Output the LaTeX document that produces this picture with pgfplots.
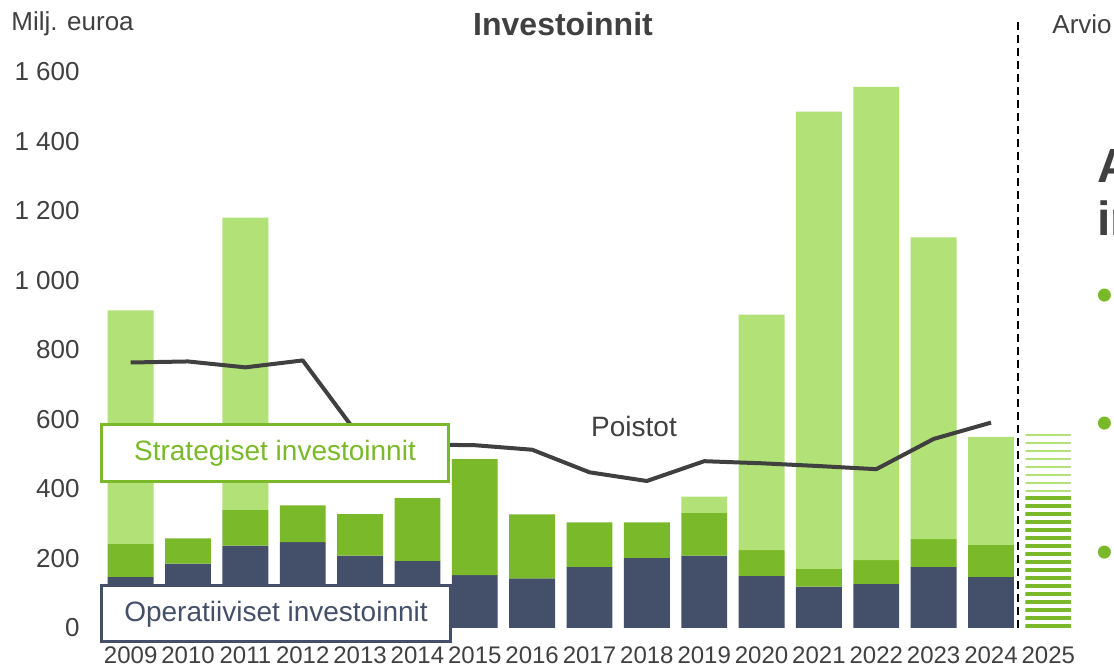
\documentclass[border=0pt]{standalone}
\usepackage{pgfplots}
\pgfplotsset{compat=1.18}
\usepackage{fontspec}
\setmainfont{Liberation Sans}

\definecolor{navy}{HTML}{44506A}
\definecolor{midgreen}{HTML}{7AB929}
\definecolor{lightgreen}{HTML}{B2E177}
\definecolor{txtgray}{HTML}{404040}

% horizontal stripes clipped to the bar shape (plain pgf so no style recursion)
\tikzset{stripes/.style n args={2}{path picture={
    \pgfsetcolor{#1}\pgfsetlinewidth{#2}%
    \foreach \i in {0,...,70}{%
      \pgfpathmoveto{\pgfpointadd{\pgfpointanchor{path picture bounding box}{south west}}{\pgfpoint{0pt}{\i*4pt+1pt}}}%
      \pgfpathlineto{\pgfpointadd{\pgfpointanchor{path picture bounding box}{south east}}{\pgfpoint{0pt}{\i*4pt+1pt}}}%
      \pgfusepath{stroke}}}}}

% investments by type, M EUR (2009 = 0 ... 2025 = 16)
\pgfplotstableread{
x  oper strat extra est1 est2 poistot
0  147  95    672   0    0    764
1  185  73    0     0    0    767
2  237  103   841   0    0    750
3  247  106   0     0    0    770
4  208  120   0     0    0    548
5  193  181   0     0    0    528
6  152  334   0     0    0    526
7  143  184   0     0    0    513
8  176  128   0     0    0    448
9  202  102   0     0    0    423
10 208  123   47    0    0    480
11 150  74    678   0    0    474
12 119  51    1316  0    0    466
13 127  68    1362  0    0    457
14 176  80    868   0    0    544
15 147  92    311   0    0    591
16 0    0     0     389  185  nan
}\data

\begin{document}
\begin{tikzpicture}
\path[use as bounding box] (-51pt,-19.5pt) rectangle (506pt,314pt);
\clip (-51pt,-19.5pt) rectangle (506pt,314pt);
\begin{axis}[
    at={(0pt,0pt)}, anchor=south west,
    scale only axis,
    width=487.5pt, height=278pt,
    ybar stacked,
    reverse stacked plots=false,
    bar width=0.8,
    xmin=-0.5, xmax=16.5,
    ymin=0, ymax=1600,
    enlargelimits=false,
    axis line style={draw=none},
    tick style={draw=none},
    xtick={0,...,16},
    xticklabels={2009,2010,2011,2012,2013,2014,2015,2016,2017,2018,2019,2020,2021,2022,2023,2024,2025},
    ytick={0,200,...,1600},
    scaled y ticks=false,
    major tick length=0pt,
    /pgf/number format/assume math mode=true,
    /pgf/number format/1000 sep={~},
    xticklabel style={anchor=base, yshift=-18pt, font=\fontsize{12}{14}\selectfont, text=txtgray},
    yticklabel style={anchor=east, inner sep=0pt, xshift=-11pt, font=\fontsize{13}{15}\selectfont, text=txtgray},
    clip=false,
]
\addplot[fill=navy, draw=none] table[x=x, y=oper] {\data};
\addplot[fill=midgreen, draw=none] table[x=x, y=strat] {\data};
\addplot[fill=lightgreen, draw=none] table[x=x, y=extra] {\data};
\addplot[draw=none, stripes={midgreen}{2pt}] table[x=x, y=est1] {\data};
\addplot[draw=none, stripes={lightgreen}{1pt}] table[x=x, y=est2] {\data};
\addplot[stack plots=false, sharp plot, no markers, color=txtgray, line width=2pt, line join=round, unbounded coords=discard] table[x=x, y=poistot] {\data};
\end{axis}

% annotations
\draw[black, line width=1.2pt, dash pattern=on 4pt off 2.5pt] (458pt,0pt) -- (458pt,304pt);
\node[anchor=west, inner sep=0pt, text=txtgray, font=\fontsize{13}{15}\selectfont] at (-45.5pt,302pt) {Milj. euroa};
\node[text=txtgray, font=\fontsize{16}{18}\selectfont\bfseries] at (230.5pt,302pt) {Investoinnit};
\node[anchor=west, text=txtgray, font=\fontsize{13}{15}\selectfont, inner sep=0pt] at (475pt,302pt) {Arvio};
\node[text=txtgray, font=\fontsize{14}{16}\selectfont] at (266pt,100.5pt) {Poistot};
\draw[midgreen, line width=1.5pt, fill=white] (0pt,73pt) rectangle (173pt,101.5pt);
\node[text=midgreen, font=\fontsize{14}{16}\selectfont] at (86.5pt,87.5pt) {Strategiset investoinnit};
\draw[navy, line width=1.5pt, fill=white] (0pt,-7pt) rectangle (174pt,21pt);
\node[text=navy, font=\fontsize{14}{16}\selectfont] at (87pt,7pt) {Operatiiviset investoinnit};
\node[anchor=west, inner sep=0pt, text=txtgray, font=\fontsize{24}{28}\selectfont\bfseries] at (497.5pt,231.5pt) {Arvio};
\node[anchor=west, inner sep=0pt, text=txtgray, font=\fontsize{24}{28}\selectfont\bfseries] at (497.5pt,205pt) {investoinnit};
\foreach \yy in {164,100,35.5}
  \node[anchor=west, inner sep=0pt, text=midgreen, font=\fontsize{24}{26}\selectfont] at (497pt,\yy pt) {\textbullet};
\end{tikzpicture}
\end{document}
